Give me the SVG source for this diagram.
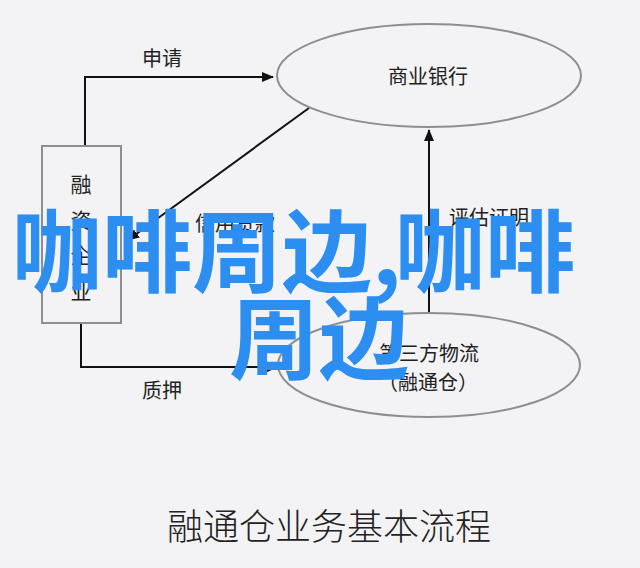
<svg xmlns="http://www.w3.org/2000/svg" width="640" height="568" viewBox="0 0 640 568">
<defs>
<style>
.lbl{font-family:"Noto Sans CJK SC","Noto Sans",sans-serif;font-size:20px;fill:#222;text-anchor:middle;dominant-baseline:central}
.node{fill:none;stroke:#8e8e8e;stroke-width:2}
.conn{fill:none;stroke:#111;stroke-width:2}
.title{font-family:"Noto Sans CJK SC","Noto Sans",sans-serif;font-size:36px;fill:#222;text-anchor:middle;dominant-baseline:central;font-weight:300}
.wm{font-family:"Noto Sans CJK SC","Noto Sans",sans-serif;font-size:90px;font-weight:bold;fill:#2b8ef0}
</style>
<marker id="ah" viewBox="0 0 12 10" refX="11" refY="5" markerWidth="12" markerHeight="10" markerUnits="userSpaceOnUse" orient="auto">
<path d="M0,0 L12,5 L0,10 Z" fill="#111"/>
</marker>
</defs>
<rect x="0" y="0" width="640" height="568" fill="#f3f3f5"/>
<g id="connectors">
<path class="conn" d="M85,146 V77 H273" marker-end="url(#ah)"/>
<path class="conn" d="M309,108 L128,240" marker-end="url(#ah)"/>
<path class="conn" d="M429,313 V130" marker-end="url(#ah)"/>
<path class="conn" d="M81,323 V367 H278" marker-end="url(#ah)"/>
<text class="lbl" x="162" y="57">申请</text>
<text class="lbl" x="235" y="222">信用贷款</text>
<text class="lbl" x="489" y="216">评估证明</text>
<text class="lbl" x="162" y="389">质押</text>
</g>
<g id="node-enterprise">
<rect class="node" x="42" y="146" width="79" height="177"/>
<text class="lbl" x="81" y="183" style="font-size:21px">融</text>
<text class="lbl" x="81" y="219" style="font-size:21px">资</text>
<text class="lbl" x="81" y="254" style="font-size:21px">企</text>
<text class="lbl" x="81" y="290" style="font-size:21px">业</text>
</g>
<g id="node-bank">
<ellipse class="node" cx="429" cy="75.5" rx="152" ry="51.5"/>
<text class="lbl" x="428" y="75">商业银行</text>
</g>
<g id="node-logistics">
<ellipse class="node" cx="429" cy="365" rx="151" ry="52"/>
<text class="lbl" x="429" y="352">第三方物流</text>
<text class="lbl" x="428" y="381">（融通仓）</text>
</g>
<g id="title">
<text class="title" x="329" y="524">融通仓业务基本流程</text>
</g>
<g id="watermark">
<text class="wm" x="12" y="285">咖啡周边,<tspan x="395">咖啡</tspan></text>
<text class="wm" x="229" y="372">周边</text>
</g>
</svg>
